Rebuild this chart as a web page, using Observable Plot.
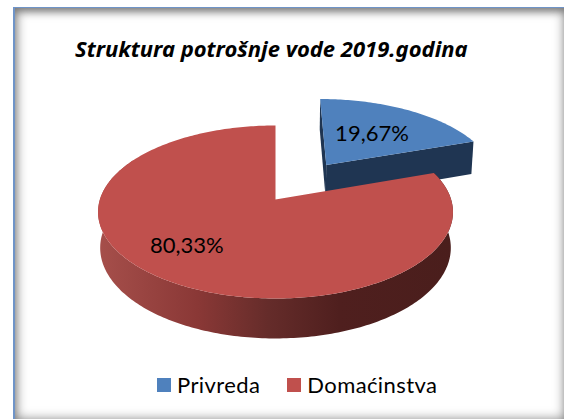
<!DOCTYPE html>
<html>
<head>
<meta charset="utf-8">
<script src="https://cdn.jsdelivr.net/npm/d3@7"></script>
<script src="https://cdn.jsdelivr.net/npm/@observablehq/plot@0.6"></script>
<style>
  html, body { margin: 0; padding: 0; background: #fff; }
  body { width: 564px; height: 419px; overflow: hidden; position: relative; font-family: Lato, "Open Sans", sans-serif; color: #000; }
  #frame { position: absolute; left: 13px; top: 7px; width: 553px; height: 414px; box-sizing: border-box;
           border-left: 2px solid #6f94c8; border-top: 1px solid #6f94c8; background: #fff; }
  #frame::after { content: ""; position: absolute; inset: 0; pointer-events: none;
           box-shadow: inset 0 0 12px 1px #777, inset 0 5px 8px -3px #888; }
  #title { position: absolute; left: 0; top: 34px; width: 100%; text-align: left; padding-left: 75px; box-sizing: border-box;
           font: italic 700 22px "Noto Sans", sans-serif; line-height: 28px; white-space: nowrap; }
  #chart { position: absolute; left: 0; top: 65px; }
  #legend { position: absolute; left: 157px; top: 370px; font-size: 22px; line-height: 30px; white-space: nowrap; display: flex; align-items: center; }
  #legend span.sw { display: inline-block; width: 14px; height: 14px; margin-right: 6px; }
  #legend span.lb { margin-right: 27px; letter-spacing: 0.4px; }
</style>
</head>
<body>
<div id="frame"></div>
<div id="title"></div>
<div id="chart"></div>
<div id="legend"></div>
<script>
const chartTitle = "Struktura potrošnje vode 2019.godina";
const categories = ["Privreda", "Domaćinstva"];
const shares = [19.67, 80.33];
const shareLabels = ["19,67%", "80,33%"];
const explode = [0.53, 0];
const topColors = ["#4F81BD", "#C0504D"];

// Perspective tilt of the pie's disc and its thickness
const tilt = 0.1446, depth = 0.423, depthW = 0.012;
const rad = d => d * Math.PI / 180;

function project(u, v, low) {
  const w = 1 + tilt * v + (low ? depthW : 0);
  return {x: u / w, y: (v - (low ? depth : 0)) / w};
}

const a0 = shares[0] * 3.6;
const slices = [
  {from: 0, to: a0, ex: explode[0]},
  {from: a0, to: 360, ex: explode[1]}
].map(s => {
  const mid = rad((s.from + s.to) / 2);
  return {...s, mid, ou: s.ex * Math.sin(mid), ov: s.ex * Math.cos(mid)};
});

const rimPoint = (s, deg, low) => project(s.ou + Math.sin(rad(deg)), s.ov + Math.cos(rad(deg)), low);
const apexPoint = (s, low) => project(s.ou, s.ov, low);
const degs = (a, b) => d3.range(a, b, 1).concat([b]);

function topFace(s) {
  return [apexPoint(s, false), ...degs(s.from, s.to).map(d => rimPoint(s, d, false))];
}
// Rim wall between two angles
function rimWall(s, a, b) {
  const ds = degs(a, b);
  return [...ds.map(d => rimPoint(s, d, false)), ...ds.slice().reverse().map(d => rimPoint(s, d, true))];
}
const [blue, red] = slices;
// Blue: the front cut face and the thin left cut face
const blueFront = [apexPoint(blue, false), rimPoint(blue, blue.to, false), rimPoint(blue, blue.to, true), apexPoint(blue, true)];
const blueLeft = [rimPoint(blue, blue.from, false), apexPoint(blue, false), apexPoint(blue, true), rimPoint(blue, blue.from, true)];
const redWall = rimWall(red, red.from, 300);

// Label anchors: 60% along each slice's mid radius
const labels = slices.map((s, i) => ({
  text: shareLabels[i],
  ...project(s.ou + 0.6 * Math.sin(s.mid), s.ov + 0.6 * Math.cos(s.mid), false)
}));

const polygon = (pts, fill) => Plot.line(pts, {x: "x", y: "y", fill, stroke: "none", curve: "linear"});

const defs = () => {
  const svg = d3.create("svg:defs");
  const g = svg.append("linearGradient").attr("id", "redWall").attr("x1", 0).attr("x2", 1).attr("y1", 0).attr("y2", 0);
  [[0, "#A64F4B"], [0.28, "#8A3836"], [0.48, "#652C2A"], [0.68, "#4F1F1E"], [1, "#4A1E1C"]]
    .forEach(([o, c]) => g.append("stop").attr("offset", o).attr("stop-color", c));
  return svg.node();
};

const plot = Plot.plot({
  width: 564,
  height: 305,
  margin: 0,
  style: {background: "transparent"},
  x: {domain: [-275 / 175.6, (564 - 275) / 175.6], range: [0, 564], axis: null},
  y: {domain: [1.582, -2.019], range: [0, 305], axis: null},
  marks: [
    defs,
    polygon(blueLeft, "#1F3552"),
    polygon(blueFront, "#1F3552"),
    polygon(topFace(blue), topColors[0]),
    polygon(redWall, "url(#redWall)"),
    polygon(topFace(red), topColors[1]),
    Plot.text(labels.slice(0, 1), {x: "x", y: "y", text: "text", fontSize: 22, fontFamily: "Lato, sans-serif", fill: "#000", dx: -5, dy: 3}),
    Plot.text(labels.slice(1), {x: "x", y: "y", text: "text", fontSize: 22, fontFamily: "Lato, sans-serif", fill: "#000", dx: -23, dy: 2})
  ]
});
document.getElementById("chart").append(plot);
document.getElementById("title").textContent = chartTitle;
const legend = document.getElementById("legend");
categories.forEach((c, i) => {
  const sw = document.createElement("span"); sw.className = "sw"; sw.style.background = topColors[i];
  const lb = document.createElement("span"); lb.className = "lb"; lb.textContent = c;
  legend.append(sw, lb);
});
</script>
</body>
</html>
